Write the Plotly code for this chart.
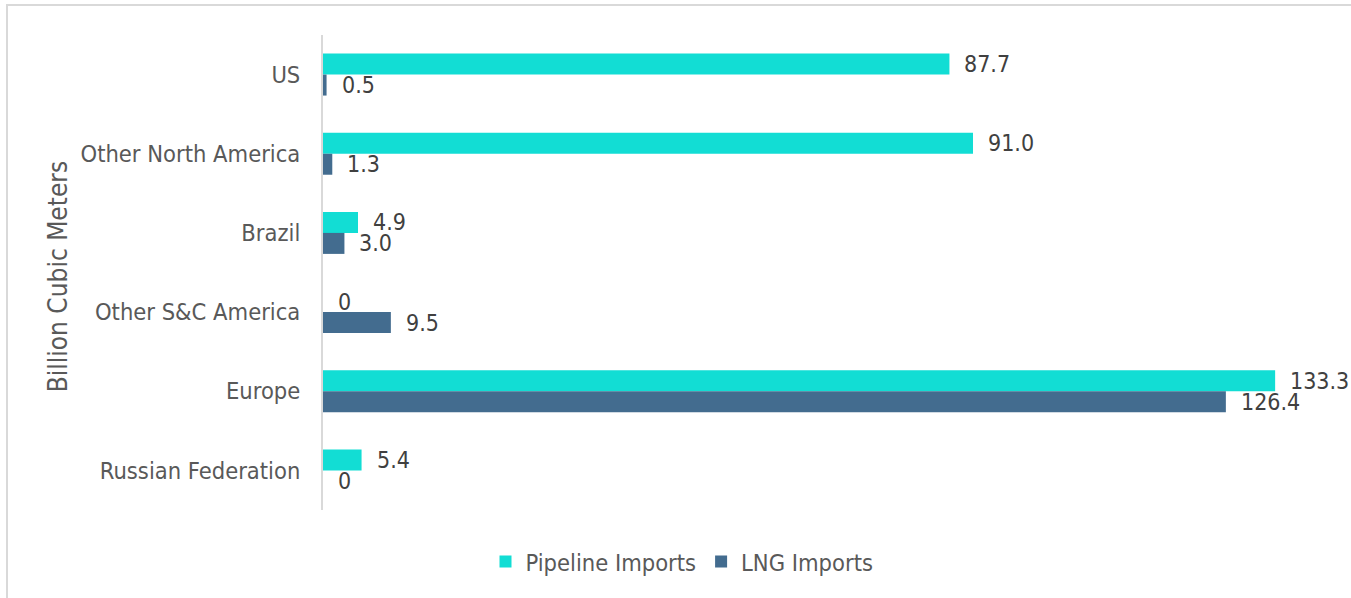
import plotly.graph_objects as go

# Natural gas imports by region, billion cubic meters
regions = ["US", "Other North America", "Brazil", "Other S&C America", "Europe", "Russian Federation"]
pipeline_imports = [87.7, 91.0, 4.9, 0.0, 133.3, 5.4]
lng_imports = [0.5, 1.3, 3.0, 9.5, 126.4, 0.0]

PIPE_COLOR = "#12DDD4"
LNG_COLOR = "#436C8F"
FONT = "DejaVu Sans Condensed, Open Sans, sans-serif"


def fmt(v):
    return f"{v:.1f}" if v else "0"


fig = go.Figure()
fig.add_trace(go.Bar(y=regions, x=pipeline_imports, orientation="h",
                     name="Pipeline Imports", marker_color=PIPE_COLOR,
                     marker_line_width=0, hoverinfo="x+y"))
fig.add_trace(go.Bar(y=regions, x=lng_imports, orientation="h",
                     name="LNG Imports", marker_color=LNG_COLOR,
                     marker_line_width=0, hoverinfo="x+y"))

# value labels to the right of each bar
annotations = []
for series, shift in ((pipeline_imports, 10.5), (lng_imports, -10.5)):
    for r, v in zip(regions, series):
        annotations.append(dict(x=v, y=r, xref="x", yref="y", text=fmt(v),
                                showarrow=False, xanchor="left", yanchor="middle",
                                xshift=13, yshift=shift,
                                font=dict(family=FONT, size=23, color="#404040")))

annotations.append(dict(x=-0.265, y=0.49, xref="paper", yref="paper",
                        text="Billion Cubic Meters", textangle=-90, showarrow=False,
                        xanchor="center", yanchor="middle",
                        font=dict(family=FONT, size=26, color="#595959")))

fig.update_layout(
    width=1351, height=598,
    margin=dict(l=323, r=28, t=35, b=88),
    paper_bgcolor="white", plot_bgcolor="white",
    barmode="group", bargap=0.47, bargroupgap=0,
    font=dict(family=FONT, size=23, color="#595959"),
    xaxis=dict(range=[0, 140], visible=False, showgrid=False, zeroline=False),
    yaxis=dict(autorange="reversed", showgrid=False, zeroline=False,
               showline=True, linecolor="#D9D9D9", linewidth=2,
               ticks="", ticklabelstandoff=16,
               tickfont=dict(family=FONT, size=23.5, color="#595959")),
    legend=dict(orientation="h", x=0.359, y=-0.109, xanchor="center", yanchor="middle",
                font=dict(family=FONT, size=23.5, color="#595959"),
                itemwidth=30, traceorder="normal"),
    annotations=annotations,
    shapes=[dict(type="path", xref="paper", yref="paper",
                 path="M -0.316,-0.2 L -0.316,1.0632 L 1.03,1.0632",
                 line=dict(color="#D9D9D9", width=2))],
)

fig.write_html("out.html")
